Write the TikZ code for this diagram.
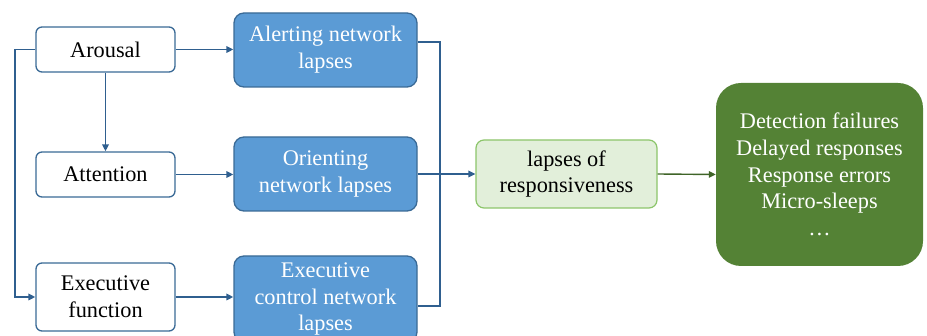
\documentclass[tikz,border=0pt]{standalone}
\usepackage{fontspec}
\setmainfont{Liberation Serif}
\usetikzlibrary{arrows.meta}
\definecolor{lineblue}{HTML}{2F5F8F}
\definecolor{boxblue}{HTML}{5B9BD5}
\definecolor{borderblue}{HTML}{3A6A96}
\definecolor{lightgreen}{HTML}{E2EFDA}
\definecolor{midgreen}{HTML}{8CC56A}
\definecolor{darkgreen}{HTML}{548235}
\definecolor{arrowgreen}{HTML}{3F6428}
\begin{document}
\begin{tikzpicture}[x=1pt,y=-1pt,
  font=\fontsize{22.3}{26.8}\selectfont,
  whitebox/.style={draw=borderblue,line width=1.3pt,fill=white,rounded corners=6pt,
    minimum width=139pt,align=center,inner sep=0pt},
  bluebox/.style={draw=borderblue,line width=1.3pt,fill=boxblue,rounded corners=10pt,
    minimum width=183pt,align=center,text=white,inner sep=0pt},
  conn/.style={draw=lineblue,line width=1.6pt},
  arr/.style={conn,-{Triangle[length=7pt,width=6.5pt]}}]
\useasboundingbox (0,0) rectangle (927,336);
\begin{scope}
\clip (0,0) rectangle (927,336);
\node[whitebox,minimum height=45pt] (arousal) at (105.5,49.5) {Arousal};
\node[whitebox,minimum height=45pt] (attention) at (105.5,174.5) {Attention};
\node[whitebox,minimum height=68pt] (execf) at (105.5,297) {Executive\\function};
\node[bluebox,minimum height=74pt] (alert) at (325.5,50) {Alerting network\\lapses};
\node[bluebox,minimum height=74pt] (orient) at (325.5,174) {Orienting\\network lapses};
\node[bluebox,minimum height=86pt] (execc) at (325.5,299) {Executive\\control network\\lapses};
\node[draw=midgreen,line width=1.2pt,fill=lightgreen,rounded corners=8pt,
  minimum width=181pt,minimum height=68pt,align=center,inner sep=0pt] (lapses) at (566.5,174) {lapses of\\responsiveness};
\node[fill=darkgreen,rounded corners=25pt,minimum width=207pt,minimum height=183pt,
  align=center,text=white,inner sep=0pt] (outcome) at (819.5,174.5)
  {Detection failures\\Delayed responses\\Response errors\\Micro-sleeps\\\ldots};

\draw[arr] (arousal.east) -- (alert.west |- arousal.east);
\draw[arr] (attention.east) -- (orient.west |- attention.east);
\draw[arr] (execf.east) -- (execc.west |- execf.east);
\draw[arr] (arousal.south) -- (attention.north);
\coordinate (lx) at (15,0);
\draw[arr] (arousal.west) -- (lx |- arousal.west) -- (lx |- execf.west) -- (execf.west);
\coordinate (bx) at (440,0);
\coordinate (atop) at ([yshift=8pt]alert.east);
\coordinate (abot) at ([yshift=-7pt]execc.east);
\draw[conn] (atop) -- (bx |- atop) -- (bx |- abot) -- (abot);
\draw[arr] (orient.east) -- (lapses.west);
\draw[draw=arrowgreen,line width=1.4pt,-{Triangle[length=7pt,width=6.5pt]}] (lapses.east) -- (outcome.west);
\end{scope}
\end{tikzpicture}
\end{document}
